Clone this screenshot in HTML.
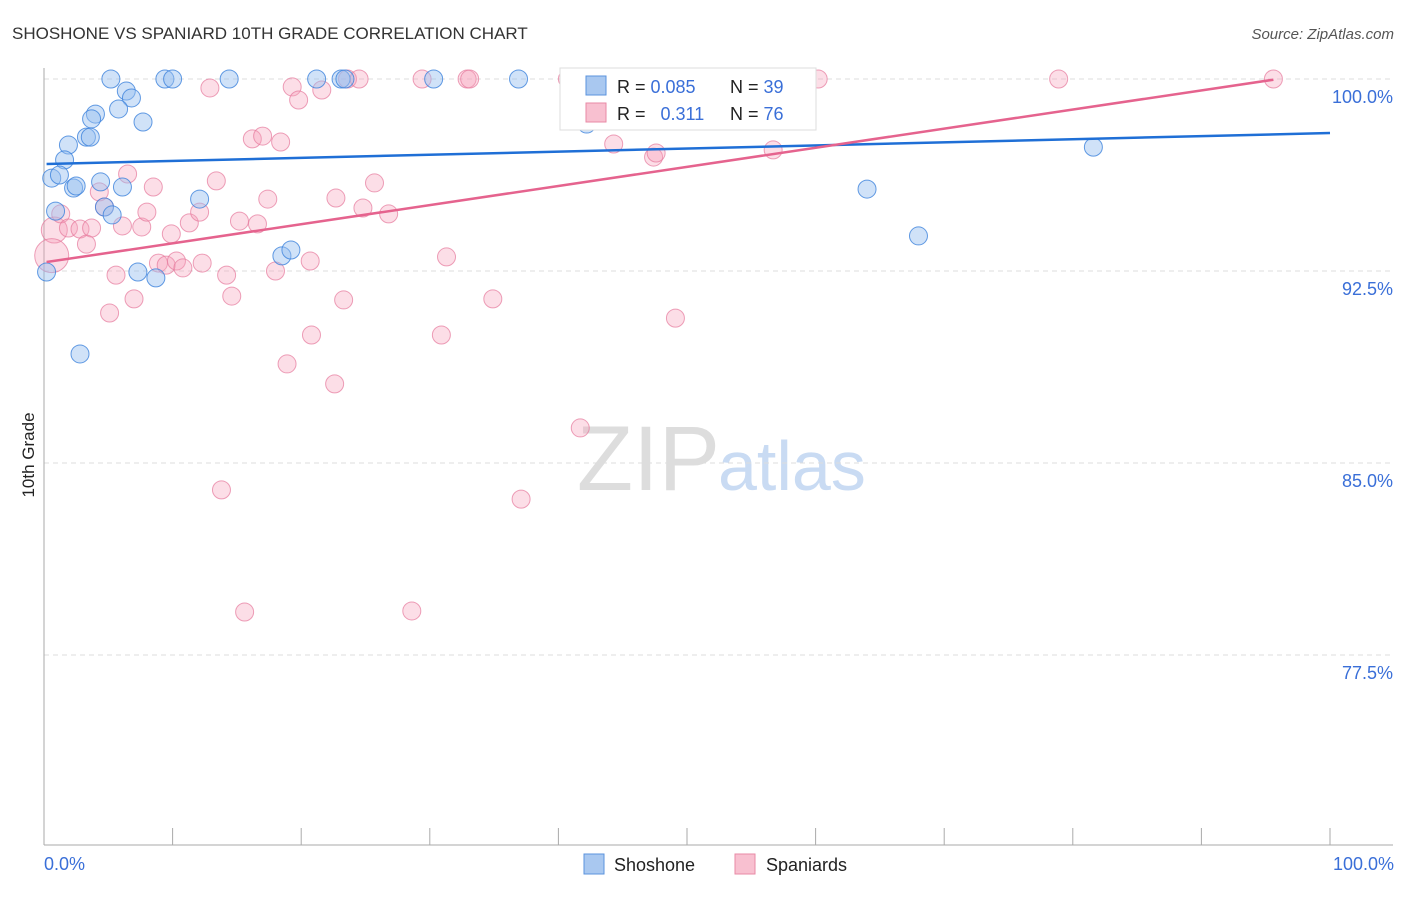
<!DOCTYPE html>
<html><head><meta charset="utf-8"><style>
body{margin:0;background:#fff;font-family:"Liberation Sans",sans-serif}
svg text{font-family:"Liberation Sans",sans-serif}
</style></head><body>
<svg width="1406" height="892">
<text x="12" y="39" font-size="17" fill="#333">SHOSHONE VS SPANIARD 10TH GRADE CORRELATION CHART</text>
<text x="1394" y="39" font-size="15" fill="#555" font-style="italic" text-anchor="end">Source: ZipAtlas.com</text>
<text x="720" y="490" font-size="92" fill="#ddd" text-anchor="end" font-family="Liberation Serif">ZIP</text>
<text x="718" y="490" font-size="70" fill="#c9dbf3">atlas</text>
<g id="grid"></g><g id="axes"></g><g id="pts"></g><g id="lines"></g>
<text transform="translate(34,455) rotate(-90)" font-size="17" fill="#222" text-anchor="middle">10th Grade</text>
<text x="44" y="870" font-size="18" fill="#3a6fd8">0.0%</text>
<text x="1394" y="870" font-size="18" fill="#3a6fd8" text-anchor="end">100.0%</text>
<g>
<rect x="560" y="68" width="256" height="62" fill="#fff" stroke="#ddd"/>
<rect x="586" y="76" width="20" height="19" fill="#a9c8f0" stroke="#5b93de"/>
<rect x="586" y="103" width="20" height="19" fill="#f8c0d0" stroke="#e88aa6"/>
<text x="617" y="93" font-size="18" fill="#222">R = <tspan fill="#3a6fd8">0.085</tspan></text>
<text x="730" y="93" font-size="18" fill="#222">N = <tspan fill="#3a6fd8">39</tspan></text>
<text x="617" y="120" font-size="18" fill="#222">R = <tspan fill="#3a6fd8" dx="10">0.311</tspan></text>
<text x="730" y="120" font-size="18" fill="#222">N = <tspan fill="#3a6fd8">76</tspan></text>
</g>
<g>
<rect x="584" y="854" width="20" height="20" fill="#a9c8f0" stroke="#5b93de"/>
<text x="614" y="871" font-size="18" fill="#222">Shoshone</text>
<rect x="735" y="854" width="20" height="20" fill="#f8c0d0" stroke="#e88aa6"/>
<text x="766" y="871" font-size="18" fill="#222">Spaniards</text>
</g>
</svg>
<script>
const yTicks=[100,92.5,85,77.5];
const yTickLabels=["100.0%","92.5%","85.0%","77.5%"];
const xTicks=[0,10,20,30,40,50,60,70,80,90,100];
const shoshoneX=[5.2,9.4,10.0,14.4,21.2,23.1,23.4,30.3,36.9,6.4,6.8,4.0,3.7,5.8,7.7,1.9,3.3,3.6,1.6,0.6,1.2,2.3,2.5,4.4,6.1,0.9,4.7,5.3,12.1,0.2,7.3,8.7,18.5,19.2,2.8,42.2,64.0,68.0,81.6];
const shoshoneY=[100,100,100,100,100,100,100,100,100,99.53,99.26,98.63,98.44,98.83,98.32,97.42,97.73,97.73,96.84,96.13,96.25,95.74,95.82,95.98,95.78,94.84,95.0,94.69,95.31,92.46,92.46,92.23,93.09,93.32,89.26,98.24,95.70,93.87,97.34];
const spaniardX=[0.8,0.6,1.3,1.9,2.8,3.7,3.3,4.3,4.7,5.6,5.1,6.1,6.5,7.0,7.6,8.0,8.5,8.9,9.5,9.9,10.3,10.8,11.3,12.1,12.3,12.9,13.4,14.2,14.6,15.2,16.2,16.6,17.0,17.4,18.4,18.0,18.9,19.3,19.8,20.7,20.8,21.6,22.7,23.3,22.6,23.6,24.5,24.8,25.7,26.8,29.4,30.9,31.3,32.9,33.1,34.9,37.1,40.7,41.7,44.3,47.4,47.6,49.1,49.9,51.9,56.7,58.8,60.2,78.9,95.6,13.8,15.6,28.6];
const spaniardY=[94.1,93.1,94.73,94.18,94.14,94.18,93.55,95.59,95.0,92.34,90.86,94.26,96.29,91.41,94.22,94.8,95.78,92.81,92.73,93.95,92.89,92.62,94.38,94.8,92.81,99.65,96.02,92.34,91.52,94.45,97.66,94.34,97.77,95.31,97.54,92.5,88.87,99.69,99.18,92.89,90.0,99.57,95.35,91.37,88.09,100,100,94.96,95.94,94.73,100,90.0,93.05,100,100,91.41,83.59,100,86.37,97.46,96.95,97.11,90.66,100,99.06,97.23,100,100,100,100,83.95,79.18,79.22];
const shoshoneTrend=[96.68,97.89];
const spaniardTrend=[92.85,100.3];
const X=v=>44+v*12.86, Y=v=>79+(100-v)*25.6;
const NS="http://www.w3.org/2000/svg";
function mk(p,t,a){const e=document.createElementNS(NS,t);for(const k in a)e.setAttribute(k,a[k]);document.getElementById(p).appendChild(e);return e;}
yTicks.forEach((t,i)=>{
 const l=mk('grid','line',{x1:44,x2:1393,y1:Y(t),y2:Y(t),stroke:'#ddd','stroke-dasharray':'5,4'});
 
 
 const tx=mk('grid','text',{x:1393,y:Y(t)+24,'font-size':18,fill:'#3a6fd8','text-anchor':'end'});
 tx.textContent=yTickLabels[i];
 
 
});
const ya=mk('axes','line',{x1:44,x2:44,y1:68,y2:845,stroke:'#aaa'});


const xa=mk('axes','line',{x1:44,x2:1393,y1:845,y2:845,stroke:'#aaa'});


xTicks.forEach(t=>{
 const l=mk('axes','line',{x1:X(t),x2:X(t),y1:828,y2:845,stroke:'#aaa'});
 
 
});
spaniardX.forEach((x,i)=>{
 const r=i==0?13:(i==1?17:9);
 const c=mk('pts','circle',{cx:X(x),cy:Y(spaniardY[i]),r:r,fill:'rgba(245,160,185,0.35)',stroke:'rgba(230,120,155,0.7)'});
 
 
});
shoshoneX.forEach((x,i)=>{
 const c=mk('pts','circle',{cx:X(x),cy:Y(shoshoneY[i]),r:9,fill:'rgba(150,190,240,0.45)',stroke:'rgba(60,130,220,0.8)'});
 
 
});
const bl=mk('lines','line',{x1:X(0.2),x2:X(100),y1:Y(shoshoneTrend[0]),y2:Y(shoshoneTrend[1]),stroke:'#1f6fd6','stroke-width':2.5});


const pl=mk('lines','line',{x1:X(0.2),x2:X(95.6),y1:Y(spaniardTrend[0]),y2:Y(spaniardTrend[0]+(spaniardTrend[1]-spaniardTrend[0])*0.956),stroke:'#e5638e','stroke-width':2.5});


</script>
</body></html>
